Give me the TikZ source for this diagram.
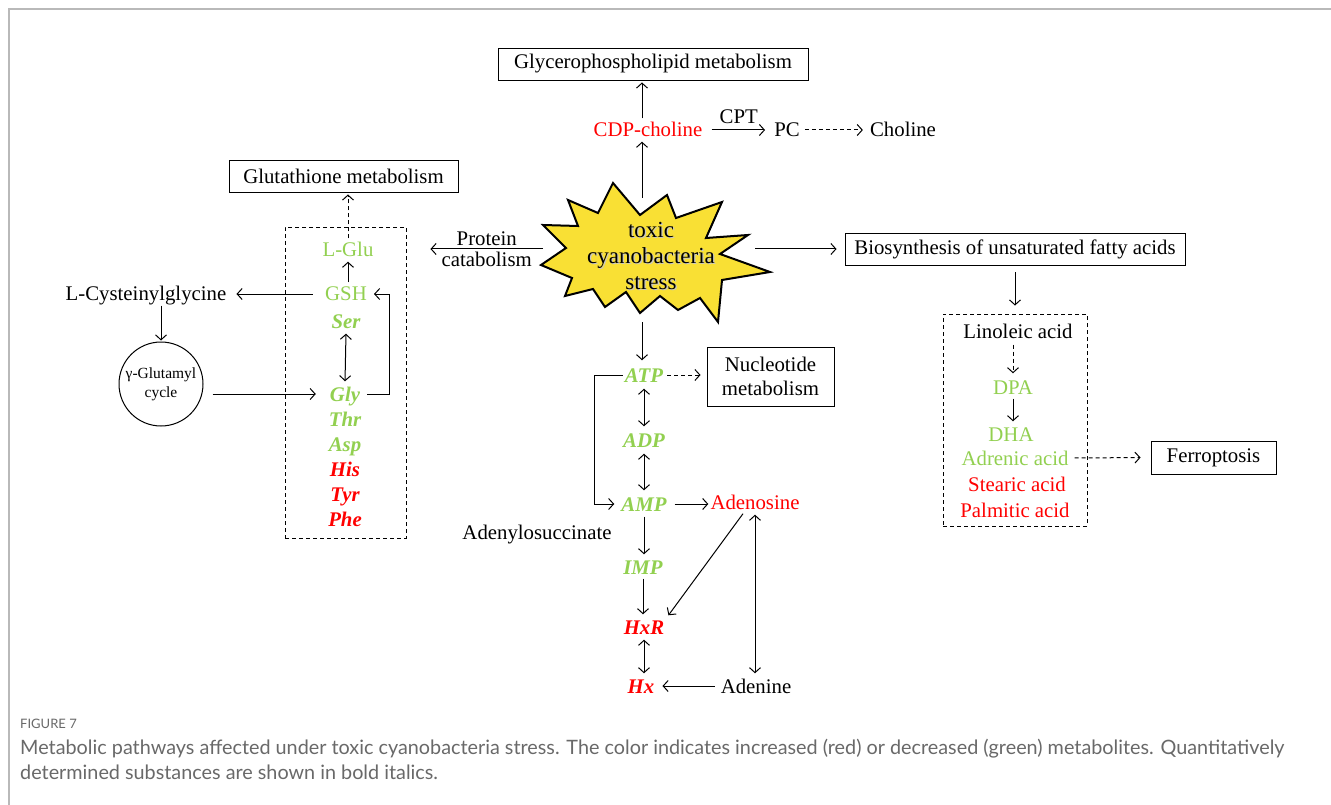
\documentclass[tikz,border=0pt]{standalone}
\usepackage{fontspec}
\setmainfont{Liberation Serif}
\newfontfamily\capfont{Lato}
\usetikzlibrary{arrows.meta}
\definecolor{grn}{RGB}{146,208,80}
\definecolor{rd}{RGB}{255,0,0}
\definecolor{starY}{RGB}{249,224,52}
\definecolor{frameG}{RGB}{185,185,185}
\definecolor{capG}{RGB}{105,105,105}
\newcommand\mfs{\fontsize{20.8}{24}\selectfont}
\begin{document}
\begin{tikzpicture}[x=1pt,y=-1pt,font=\mfs,
  every node/.style={inner sep=2pt},
  t/.style={text height=16.5pt,text depth=2.5pt},
  box/.style={draw,line width=0.9pt,minimum height=32pt,inner sep=0pt},
  dbox/.style={draw,dash pattern=on 4pt off 3pt,line width=0.9pt},
  arr/.style={line width=1pt,-{Straight Barb[length=5pt,width=11pt]}},
  darr/.style={arr,dash pattern=on 4pt off 3pt},
  dbl/.style={line width=1pt,{Straight Barb[length=5pt,width=11pt]}-{Straight Barb[length=5pt,width=11pt]}},
  bk/.style={t},
  gn/.style={t,text=grn},
  rn/.style={t,text=rd},
  gb/.style={t,text=grn,font=\mfs\bfseries\itshape},
  rb/.style={t,text=rd,font=\mfs\bfseries\itshape},
  captxt/.style={anchor=base west,inner sep=0pt,text=capG}
]
\useasboundingbox (0,0) rectangle (1331,805);
\fill[white] (0,0) rectangle (1331,805);
\draw[frameG,line width=1.5pt] (9,805) -- (9,9) -- (1331,9);

% star
\draw[fill=starY,line width=2pt,line join=miter]
 (541,265) -- (566,248) -- (543,225) -- (578,226) -- (568,200) -- (598,213) -- (613,183) -- (640,215)
 -- (667,195) -- (676,218) -- (722,202) -- (706,238) -- (748,235) -- (720,254) -- (770,272) -- (722,280)
 -- (718,322) -- (700,298) -- (678,310) -- (660,296) -- (640,313) -- (626,292) -- (605,307) -- (593,289)
 -- (565,296) -- (572,278) -- cycle;
\node[align=center,font=\fontsize{23}{26}\selectfont,text=black!22] (starsh) at (652.3,257.3) {toxic\\cyanobacteria\\stress};
\node[align=center,font=\fontsize{23}{26}\selectfont] (star) at (651,256) {toxic\\cyanobacteria\\stress};
\coordinate (stN) at (642,198);
\coordinate (stS) at (642,322);
\coordinate (stW) at (543,249);
\coordinate (stE) at (755,249);

% top
\node[box,minimum width=310pt] (glp) at (653,64) {Glycerophospholipid metabolism};
\node[rn] (cdp) at (648,130) {CDP-choline};
\node[bk] (pc) at (787,130) {PC};
\node[bk] (chol) at (903,130) {Choline};
\draw[arr] (stN) -- (stN |- cdp.south);
\draw[arr,shorten >=2pt] (stN |- cdp.north) -- (stN |- glp.south);
\draw[arr,shorten >=7pt] ([xshift=7pt]cdp.east) -- (pc.west) node[midway,above=4pt,xshift=-3pt] (cpt) {CPT};
\draw[darr,shorten <=3pt,shorten >=5pt] (pc.east) -- (chol.west);

% left
\node[box,minimum width=229pt] (gmet) at (343.5,176) {Glutathione metabolism};
\node[dbox,minimum width=121pt,minimum height=311pt] (gbox) at (345.5,382.5) {};
\node[gn] (lglu) at (348,250) {L-Glu};
\node[gn] (gsh) at (346,294) {GSH};
\node[gb] (ser) at (346,321) {Ser};
\node[gb] (gly) at (345,394) {Gly};
\node[gb] (thr) at (345,419) {Thr};
\node[gb] (asp) at (345,444) {Asp};
\node[rb] (his) at (345,469) {His};
\node[rb] (tyr) at (345,494) {Tyr};
\node[rb] (phe) at (345,519) {Phe};
\draw[darr,shorten >=2pt] (lglu.north) -- (lglu.north |- gmet.south);
\draw[arr] (gsh.north -| lglu.north) -- (lglu.south);
\draw[dbl,shorten <=1pt,shorten >=1pt] (ser.south) -- (gly.north);
\draw[arr] ([xshift=5pt]gly.east) -- ++(22,0) |- ([xshift=5pt]gsh.east);
\node[bk] (lcys) at (146,294) {L-Cysteinylglycine};
\draw[arr,shorten <=10pt,shorten >=8pt] (gsh.west) -- (lcys.east);
\node[circle,draw,line width=1pt,minimum size=84pt,inner sep=0pt,align=center,font=\fontsize{15.5}{19}\selectfont] (gcyc) at (161,384) {γ-Glutamyl\\cycle};
\draw[arr,shorten >=1pt] (lcys.south -| gcyc.north) -- (gcyc.north);
\draw[arr] ([xshift=9pt]gcyc.east |- gly.west) -- ([xshift=-12pt]gly.west);

% protein catabolism
\draw[arr] (stW) -- ([xshift=24pt]gbox.east |- stW)
  node[pos=0.5,above=1pt] (prot) {Protein}
  node[pos=0.5,below=1pt] (cat) {catabolism};

% right
\node[box,minimum width=340pt] (bio) at (1015,249) {Biosynthesis of unsaturated fatty acids};
\draw[arr,shorten >=8pt] (stE) -- (bio.west);
\node[dbox,minimum width=144pt,minimum height=212pt] (fbox) at (1015,420) {};
\draw[arr,shorten <=7pt,shorten >=8pt] (bio.south) -- (bio.south |- fbox.north);
\node[bk] (lino) at (1018,331) {Linoleic acid};
\node[gn] (dpa) at (1013,387) {DPA};
\node[gn] (dha) at (1011,434) {DHA};
\node[gn] (adr) at (1015,458) {Adrenic acid};
\node[rn] (ste) at (1017,484) {Stearic acid};
\node[rn] (pal) at (1015,510) {Palmitic acid};
\draw[darr,shorten <=2pt,shorten >=2pt] (dpa.north |- lino.south) -- (dpa.north);
\draw[arr,shorten >=1pt] (dpa.south) -- (dpa.south |- dha.north);
\node[box,minimum width=125pt,minimum height=33pt] (fer) at (1213.5,457.5) {Ferroptosis};
\draw[darr,shorten <=4pt,shorten >=10pt] (adr.east) -- (fer.west);

% center column
\node[gb] (atp) at (644,375) {ATP};
\draw[arr,shorten >=3pt] (stS) -- (stS |- atp.north);
\node[box,minimum width=127pt,minimum height=59pt,align=center] (nuc) at (770.5,376.5) {Nucleotide\\metabolism};
\draw[darr,shorten <=2pt,shorten >=6pt] (atp.east) -- (atp.east -| nuc.west);
\node[gb] (adp) at (644,440) {ADP};
\node[gb] (amp) at (644,504) {AMP};
\draw[dbl,shorten <=2pt,shorten >=2pt] (atp.south) -- (adp.north);
\draw[dbl,shorten <=2pt,shorten >=2pt] (adp.south) -- (amp.north);
\draw[arr] (atp.west) -- ++(-28,0) |- ([xshift=-5pt]amp.west);
\node[rn] (ado) at (755,502) {Adenosine};
\draw[arr,shorten <=6pt] (amp.east) -- (amp.east -| ado.west);
\node[bk] (asucc) at (537,532) {Adenylosuccinate};
\node[gb] (imp) at (643,567) {IMP};
\node[rb] (hxr) at (644,627) {HxR};
\node[rb] (hx) at (641,686) {Hx};
\node[bk] (ade) at (756,686) {Adenine};
\draw[arr,shorten <=1pt,shorten >=1pt] (amp.south) -- (amp.south |- imp.north);
\draw[arr,shorten >=1pt] (imp.south) -- (imp.south |- hxr.north);
\draw[dbl,shorten <=1pt,shorten >=1pt] (hxr.south) -- (hxr.south |- hx.north);
\draw[arr,shorten <=4pt,shorten >=6pt] (ade.west) -- (hx.east);
\draw[arr] ([xshift=-12pt]ado.south) -- ([xshift=2pt]hxr.north east);
\draw[dbl,shorten <=1pt,shorten >=1pt] (ado.south) -- (ado.south |- ade.north);

% caption
\node[captxt,font=\capfont\fontsize{13}{15}\selectfont] (fig) at (20,728) {FIGURE 7};
\node[captxt,font=\capfont\fontsize{19.8}{25}\selectfont] (cap1) at (20,754) {Metabolic pathways affected under toxic cyanobacteria stress. The color indicates increased (red) or decreased (green) metabolites. Quantitatively};
\node[captxt,font=\capfont\fontsize{19.8}{25}\selectfont] (cap2) at (20,779) {determined substances are shown in bold italics.};
\end{tikzpicture}
\end{document}
